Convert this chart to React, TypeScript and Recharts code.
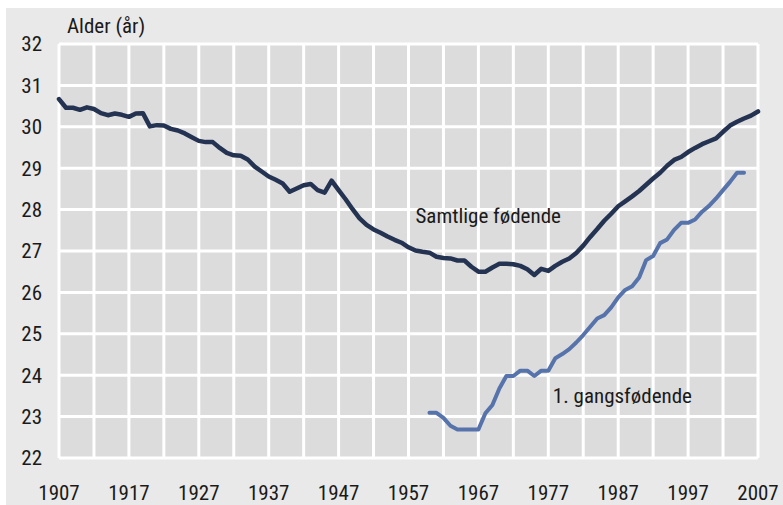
import React from "react";
import {
  LineChart,
  Line,
  XAxis,
  YAxis,
  CartesianGrid,
  ReferenceDot,
} from "recharts";

// Mothers' mean age at birth, 1907-2007
const years: number[] = Array.from({ length: 101 }, (_, i) => 1907 + i);

const allBirths: number[] = [
  30.67, 30.46, 30.46, 30.41, 30.47, 30.43, 30.33, 30.28, 30.32, 30.29, // 1907-1916
  30.24, 30.32, 30.33, 30.01, 30.04, 30.03, 29.95, 29.91, 29.84, 29.75, // 1917-1926
  29.66, 29.63, 29.63, 29.49, 29.37, 29.31, 29.3, 29.21, 29.04, 28.92, // 1927-1936
  28.8, 28.72, 28.63, 28.43, 28.51, 28.59, 28.62, 28.47, 28.41, 28.7, // 1937-1946
  28.47, 28.25, 28.01, 27.79, 27.63, 27.52, 27.44, 27.35, 27.27, 27.2, // 1947-1956
  27.09, 27.01, 26.98, 26.96, 26.86, 26.83, 26.82, 26.77, 26.77, 26.62, // 1957-1966
  26.5, 26.5, 26.6, 26.69, 26.69, 26.68, 26.64, 26.56, 26.42, 26.57, // 1967-1976
  26.52, 26.64, 26.74, 26.82, 26.95, 27.13, 27.34, 27.53, 27.73, 27.9, // 1977-1986
  28.08, 28.2, 28.32, 28.45, 28.6, 28.75, 28.89, 29.06, 29.2, 29.27, // 1987-1996
  29.39, 29.49, 29.58, 29.65, 29.72, 29.88, 30.03, 30.12, 30.2, 30.27, // 1997-2006
  30.37, // 2007
];

const firstBirthStart = 1960;
const firstBirths: number[] = [
  23.09, 23.09, 22.97, 22.78, 22.69, 22.69, 22.69, 22.69, 23.08, 23.28, // 1960-1969
  23.68, 23.98, 23.98, 24.11, 24.11, 23.98, 24.11, 24.11, 24.41, 24.51, // 1970-1979
  24.63, 24.79, 24.97, 25.17, 25.37, 25.45, 25.64, 25.88, 26.06, 26.15, // 1980-1989
  26.36, 26.78, 26.88, 27.19, 27.28, 27.51, 27.68, 27.68, 27.76, 27.95, // 1990-1999
  28.09, 28.27, 28.47, 28.67, 28.89, 28.89, // 2000-2005
];

const xTicks = [1907, 1917, 1927, 1937, 1947, 1957, 1967, 1977, 1987, 1997, 2007];
const yTicks = [22, 23, 24, 25, 26, 27, 28, 29, 30, 31, 32];
const xGrid = Array.from({ length: 21 }, (_, i) => 1907 + i * 5);

const seriesNames = { all: "Samtlige fødende", first: "1. gangsfødende" };

const data = years.map((year, i) => {
  const j = year - firstBirthStart;
  return {
    year,
    all: allBirths[i],
    first: j >= 0 && j < firstBirths.length ? firstBirths[j] : undefined,
  };
});

const FONT =
  "'Liberation Sans Narrow', 'Roboto Condensed', 'DejaVu Sans Condensed', 'Liberation Sans', sans-serif";
const TEXT = "#1a1a1a";

export default function App() {
  return (
    <div
      style={{
        position: "fixed",
        left: 6,
        top: 8,
        width: 777,
        height: 497,
        background: "#e9e9e9",
        fontFamily: FONT,
      }}
    >
      <div
        style={{
          position: "absolute",
          left: 61,
          top: 8,
          fontSize: 21,
          lineHeight: 1,
          color: TEXT,
        }}
      >
        Alder (år)
      </div>
      <LineChart
        width={777}
        height={497}
        data={data}
        margin={{ top: 36, right: 25, left: 0, bottom: 0 }}
      >
        <CartesianGrid
          fill="#dcdcdc"
          stroke="#ffffff"
          strokeWidth={3}
          verticalValues={xGrid}
          horizontalValues={yTicks}
        />
        <XAxis
          dataKey="year"
          type="number"
          domain={[1907, 2007]}
          ticks={xTicks}
          interval={0}
          height={47}
          axisLine={false}
          tickLine={false}
          tickSize={0}
          tickMargin={27}
          tick={{ fontSize: 21, fill: TEXT, fontFamily: FONT }}
        />
        <YAxis
          type="number"
          domain={[22, 32]}
          ticks={yTicks}
          interval={0}
          width={53}
          axisLine={false}
          tickLine={false}
          tickSize={0}
          tickMargin={17}
          tick={{ fontSize: 21, fill: TEXT, fontFamily: FONT }}
        />
        <Line
          dataKey="all"
          type="linear"
          stroke="#243352"
          strokeWidth={4.5}
          strokeLinejoin="round"
          strokeLinecap="round"
          dot={false}
          activeDot={false}
          isAnimationActive={false}
        />
        <Line
          dataKey="first"
          type="linear"
          stroke="#5673ab"
          strokeWidth={4}
          strokeLinejoin="round"
          strokeLinecap="round"
          dot={false}
          activeDot={false}
          isAnimationActive={false}
        />
        <ReferenceDot
          x={1968.4}
          y={27.86}
          r={0}
          fill="none"
          stroke="none"
          ifOverflow="visible"
          label={{
            value: seriesNames.all,
            position: "center",
            fontSize: 21,
            fill: TEXT,
            fontFamily: FONT,
          }}
        />
        <ReferenceDot
          x={1987.6}
          y={23.51}
          r={0}
          fill="none"
          stroke="none"
          ifOverflow="visible"
          label={{
            value: seriesNames.first,
            position: "center",
            fontSize: 21,
            fill: TEXT,
            fontFamily: FONT,
          }}
        />
      </LineChart>
    </div>
  );
}
